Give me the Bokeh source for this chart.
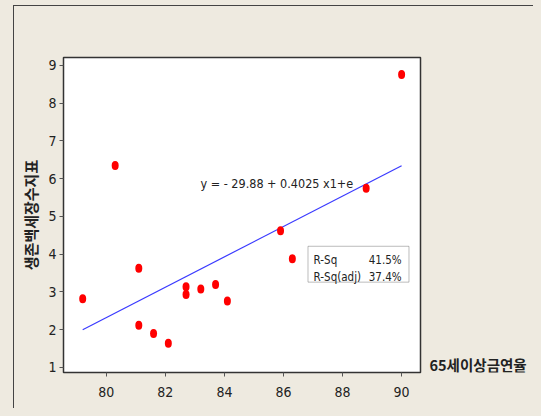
from bokeh.plotting import figure
from bokeh.models import Label, BoxAnnotation, Range1d, FixedTicker, GlobalInlineStyleSheet
from bokeh.layouts import row
from bokeh.core.properties import value
from bokeh.embed import file_html
from bokeh.resources import INLINE

# ---- data ----
x_rate = [79.2, 80.3, 81.1, 81.1, 81.6, 82.1, 82.7, 82.7, 83.2, 83.7, 84.1, 85.9, 86.3, 88.8, 90.0]
y_index = [2.82, 6.35, 3.63, 2.12, 1.90, 1.64, 3.14, 2.93, 3.08, 3.20, 2.76, 4.62, 3.88, 5.75, 8.76]
intercept = -29.88
slope = 0.4025
x_ticks = [80, 82, 84, 86, 88, 90]
y_ticks = [1, 2, 3, 4, 5, 6, 7, 8, 9]
eq_text = "y =  - 29.88 + 0.4025 x1+e"
rsq_labels = ["R-Sq", "R-Sq(adj)"]
rsq_values = ["41.5%", "37.4%"]
x_title = "65세이상금연율"
y_title = "생존백세장수지표"

BG = "#EEEAE0"
NARROW = "'DejaVu Sans Condensed', sans-serif"
KR = "'Noto Sans CJK KR', sans-serif"

p = figure(width=425, height=408, output_backend="svg", toolbar_location=None,
           x_range=Range1d(78.55, 90.64), y_range=Range1d(0.867, 9.21))
p.min_border_left = 63
p.min_border_right = 5
p.min_border_top = 57
p.min_border_bottom = 36
p.background_fill_color = "white"
p.border_fill_color = None
p.styles = {
    "background-color": BG,
    "background-image": "linear-gradient(#444,#444), linear-gradient(#444,#444)",
    "background-size": "1px 100%, 100% 1px",
    "background-position": "13px 5px, 13px 5px",
    "background-repeat": "no-repeat",
}
p.outline_line_color = "#333333"
p.outline_line_width = 1.5
p.xgrid.visible = False
p.ygrid.visible = False

for ax in (p.xaxis[0], p.yaxis[0]):
    ax.axis_line_color = "#333333"
    ax.major_tick_line_color = "#555555"
    ax.major_tick_in = 0
    ax.major_tick_out = 4
    ax.minor_tick_line_color = None
    ax.major_label_text_font = NARROW
    ax.major_label_text_font_size = "14px"
    ax.major_label_text_color = "#222222"
    ax.major_label_standoff = 3
p.xaxis[0].major_label_standoff = 10

p.xaxis[0].ticker = FixedTicker(ticks=x_ticks)
p.yaxis[0].ticker = FixedTicker(ticks=y_ticks)

p.yaxis[0].axis_label = y_title
p.yaxis[0].axis_label_text_font = KR
p.yaxis[0].axis_label_text_font_style = "bold"
p.yaxis[0].axis_label_text_font_size = "15px"
p.yaxis[0].axis_label_text_color = "#222222"
p.yaxis[0].axis_label_standoff = 4

# regression line
lx = [min(x_rate), max(x_rate)]
ly = [intercept + slope * v for v in lx]
p.line(lx, ly, line_color="#3a3aff", line_width=1.2)

# points
p.ellipse(x=x_rate, y=y_index, width=7, height=9, width_units="screen",
          height_units="screen", fill_color="#ff0000", line_color=None)

# equation
p.add_layout(Label(x=83.19, y=5.87, text=eq_text, text_font=NARROW,
                   text_font_size="12.5px", text_color="#222222", text_baseline="middle"))

# R-Sq box
p.add_layout(BoxAnnotation(left=86.83, right=90.25, bottom=3.26, top=4.21,
                           fill_color="white", fill_alpha=1.0,
                           line_color="#222222", line_width=1, level="overlay"))
for lab, val, yy in zip(rsq_labels, rsq_values, [3.85, 3.40]):
    p.add_layout(Label(x=87.02, y=yy, text=lab, text_font=NARROW, text_font_size="11.5px",
                       text_color="#222222", text_baseline="middle", level="overlay"))
    p.add_layout(Label(x=90.0, y=yy, text=val, text_font=NARROW, text_font_size="11.5px",
                       text_color="#222222", text_baseline="middle", text_align="right",
                       level="overlay"))

# side panel holding the x title (to the right of the axis); shares p's y scale
p2 = figure(width=108, height=408, output_backend="svg", toolbar_location=None,
            x_range=Range1d(0, 108), y_range=p.y_range,
            x_axis_type=None, y_axis_type=None, title=None)
p2.min_border_left = 0
p2.min_border_right = 0
p2.min_border_top = 57
p2.min_border_bottom = 36
p2.xgrid.visible = False
p2.ygrid.visible = False
p2.outline_line_color = None
p2.background_fill_color = None
p2.border_fill_color = None
p2.styles = {
    "background-color": BG,
    "background-image": "linear-gradient(#444,#444)",
    "background-size": "100% 1px",
    "background-position": "0px 5px",
    "background-repeat": "no-repeat",
}
p2.text(x=[4], y=[1.08], text=[x_title], text_font=value(KR), text_font_style="bold",
        text_font_size="14.5px", text_color="#222222", text_baseline="middle")

layout = row(p, p2)
layout.stylesheets = [GlobalInlineStyleSheet(css="html, body { background-color: #EEEAE0; }")]

open("out.html", "w").write(file_html(layout, INLINE))
